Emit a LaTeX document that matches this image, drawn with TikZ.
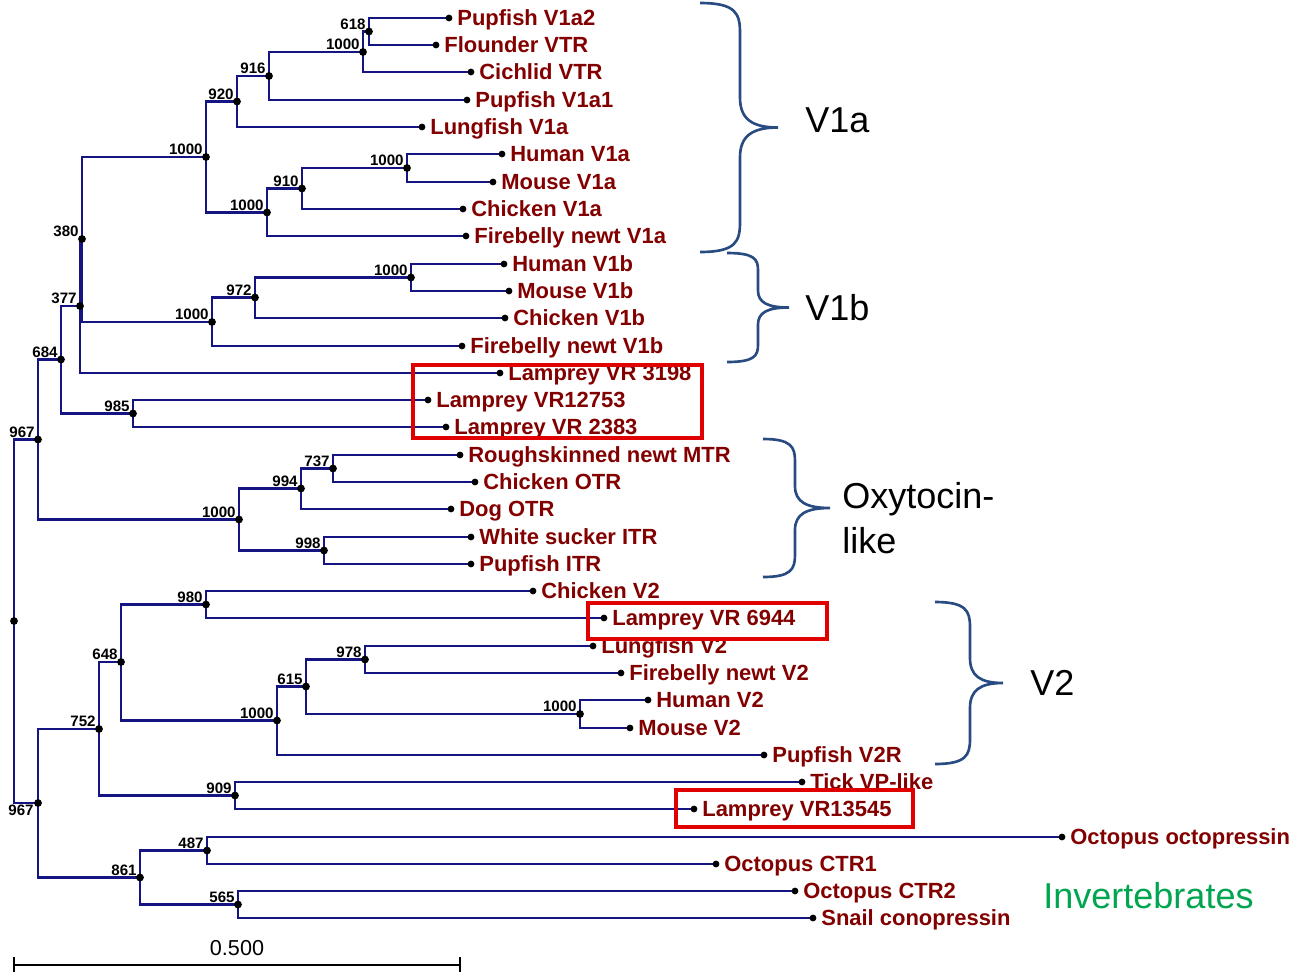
\documentclass[tikz,border=0pt]{standalone}
\usepackage{fontspec}
\setmainfont{Liberation Sans}
\definecolor{branchcol}{RGB}{20,20,130}
\definecolor{leafred}{RGB}{130,0,0}
\definecolor{bracecol}{RGB}{40,75,130}
\definecolor{boxred}{RGB}{225,0,0}
\definecolor{invgreen}{RGB}{0,165,80}
\newcommand\grpbrace[6]{% left, spine, tip, top, bottom, r
  \pgfmathsetmacro\bmid{(#4+#5)/2}
  \draw[bracestyle] (#1,#4) .. controls ({#2-4},#4) and (#2,{#4+0.35*#6}) .. (#2,{#4+#6})
    -- (#2,{\bmid-#6}) .. controls (#2,{\bmid-0.3*#6}) and ({#2+0.3*(#3-#2)},\bmid) .. (#3,\bmid)
    .. controls ({#2+0.3*(#3-#2)},\bmid) and (#2,{\bmid+0.3*#6}) .. (#2,{\bmid+#6})
    -- (#2,{#5-#6}) .. controls (#2,{#5-0.35*#6}) and ({#2-4},#5) .. (#1,#5);
}
\begin{document}
\begin{tikzpicture}[x=0.02cm,y=-0.02cm,
  branch/.style={draw=branchcol, line width=1.2pt},
  leaflbl/.style={anchor=base west, inner sep=0pt, text=leafred,
    font=\fontsize{12.5}{15}\selectfont\bfseries, xshift=0.16cm, yshift=-0.158cm},
  boot/.style={anchor=base east, inner sep=0pt,
    font=\fontsize{8.6}{10}\selectfont\bfseries, xshift=-0.06cm, yshift=0.05cm},
  bracestyle/.style={draw=bracecol, line width=1.5pt},
  grplbl/.style={anchor=base west, inner sep=0pt,
    font=\fontsize{20.5}{24}\selectfont, yshift=-0.26cm},
  redbox/.style={draw=boxred, line width=2pt},
]
\useasboundingbox (0,0) rectangle (1302,978);

% leaves
\foreach \n/\x/\y/\t in {
  l1/449/18/Pupfish V1a2, l2/436/45/Flounder VTR, l3/471/72/Cichlid VTR,
  l4/467/100/Pupfish V1a1, l5/422/127/Lungfish V1a, l6/502/154/Human V1a,
  l7/493/182/Mouse V1a, l8/463/209/Chicken V1a, l9/466/236/Firebelly newt V1a,
  l10/504/264/Human V1b, l11/509/291/Mouse V1b, l12/505/318/Chicken V1b,
  l13/462/346/Firebelly newt V1b, l14/500/373/Lamprey VR 3198,
  l15/428/400/Lamprey VR12753, l16/446/427/Lamprey VR 2383,
  l17/460/455/Roughskinned newt MTR, l18/475/482/Chicken OTR,
  l19/451/509/Dog OTR, l20/471/537/White sucker ITR, l21/471/564/Pupfish ITR,
  l22/533/591/Chicken V2, l23/604/618/Lamprey VR 6944, l24/593/646/Lungfish V2,
  l25/621/673/Firebelly newt V2, l26/648/700/Human V2, l27/630/728/Mouse V2,
  l28/764/755/Pupfish V2R, l29/802/782/Tick VP-like, l30/694/809/Lamprey VR13545,
  l31/1062/837/Octopus octopressin, l32/716/864/Octopus CTR1,
  l33/795/891/Octopus CTR2, l34/813/918/Snail conopressin}
{
  \coordinate (\n) at (\x,\y);
  \node[leaflbl] (t\n) at (\n) {\t};
}

% internal nodes with bootstrap values
\foreach \n/\x/\y/\b in {
  a618/369/31.5/618, a1000a/363/52/1000, a916/269/76/916, a920/237/101.5/920,
  a1000h/407/168/1000, a910/302/188.5/910, a1000c/267/212.5/1000,
  a1000v/206/157/1000, a1000hb/411/277.5/1000, a972/255/297.5/972,
  a1000b/212/322/1000, a380/82/239/380, a377/80/306/377, a985/133/413.5/985,
  a684/61/359.5/684, a737/333/468.5/737, a994/301/488.5/994, a998/324/550.5/998,
  a1000o/239/519.5/1000, a967u/38/439.5/967, a980/206/604.5/980,
  a978/365/659.5/978, a1000m/580/714/1000, a615/306/686.5/615,
  a1000w/277/720.5/1000, a648/121/662/648, a909/235/795.5/909,
  a752/99/729/752, a487/207/850.5/487, a565/238/904.5/565, a861/140/877.5/861}
{
  \coordinate (\n) at (\x,\y);
  \node[boot] (b\n) at (\n) {\b};
}
\coordinate (a967l) at (38,803);
\node[boot, anchor=north east, xshift=-0.02cm, yshift=-0.08cm] (ba967l) at (a967l) {967};
\coordinate (root) at (14,621);

% branches
\foreach \p/\c in {
  a618/l1, a618/l2, a1000a/a618, a1000a/l3, a916/a1000a, a916/l4,
  a920/a916, a920/l5, a1000h/l6, a1000h/l7, a910/a1000h, a910/l8,
  a1000c/a910, a1000c/l9, a1000v/a920, a1000v/a1000c,
  a1000hb/l10, a1000hb/l11, a972/a1000hb, a972/l12, a1000b/a972, a1000b/l13,
  a380/a1000v, a380/a1000b, a377/a380, a377/l14, a985/l15, a985/l16,
  a684/a377, a684/a985, a737/l17, a737/l18, a994/a737, a994/l19,
  a998/l20, a998/l21, a1000o/a994, a1000o/a998, a967u/a684, a967u/a1000o,
  a980/l22, a980/l23, a978/l24, a978/l25, a1000m/l26, a1000m/l27,
  a615/a978, a615/a1000m, a1000w/a615, a1000w/l28, a648/a980, a648/a1000w,
  a909/l29, a909/l30, a752/a648, a752/a909, a487/l31, a487/l32,
  a565/l33, a565/l34, a861/a487, a861/a565, a967l/a752, a967l/a861,
  root/a967u, root/a967l}
{
  \draw[branch] (\p) |- (\c);
}

% dots
\foreach \n in {l1,l2,l3,l4,l5,l6,l7,l8,l9,l10,l11,l12,l13,l14,l15,l16,l17,
  l18,l19,l20,l21,l22,l23,l24,l25,l26,l27,l28,l29,l30,l31,l32,l33,l34}
  \fill (\n) circle[radius=0.068cm];
\foreach \n in {a618,a1000a,a916,a920,a1000h,a910,a1000c,a1000v,a1000hb,a972,
  a1000b,a380,a377,a985,a684,a737,a994,a998,a1000o,a967u,a980,a978,a1000m,
  a615,a1000w,a648,a909,a752,a487,a565,a861,a967l,root}
  \fill (\n) circle[radius=0.078cm];

% group braces and labels
\grpbrace{700}{740}{778}{3}{252}{30}
\grpbrace{727}{758}{789}{253}{362}{17}
\grpbrace{763}{795}{830}{439}{577}{22}
\grpbrace{935}{970}{1003}{602}{764}{25}
\node[grplbl] (gV1a) at (805,119) {V1a};
\node[grplbl] (gV1b) at (805,307) {V1b};
\node[grplbl] (gOxy) at (842,495) {Oxytocin-};
\node[grplbl] (gLike) at (842,540) {like};
\node[grplbl] (gV2) at (1030,682) {V2};
\node[grplbl, text=invgreen] (gInv) at (1043,895) {Invertebrates};

% red boxes
\draw[redbox] (413,365) rectangle (702,438);
\draw[redbox] (588,603) rectangle (827,639);
\draw[redbox] (676,790) rectangle (913,827);

% scale bar
\coordinate (sbL) at (14,965);
\coordinate (sbR) at (460,965);
\draw[line width=1.2pt] (sbL) -- (sbR);
\draw[line width=1.2pt] (14,957) -- (14,972);
\draw[line width=1.2pt] (460,957) -- (460,972);
\node[anchor=base, inner sep=0pt, font=\fontsize{12.3}{14}\selectfont] (sblbl) at (237,955) {0.500};
\end{tikzpicture}
\end{document}
